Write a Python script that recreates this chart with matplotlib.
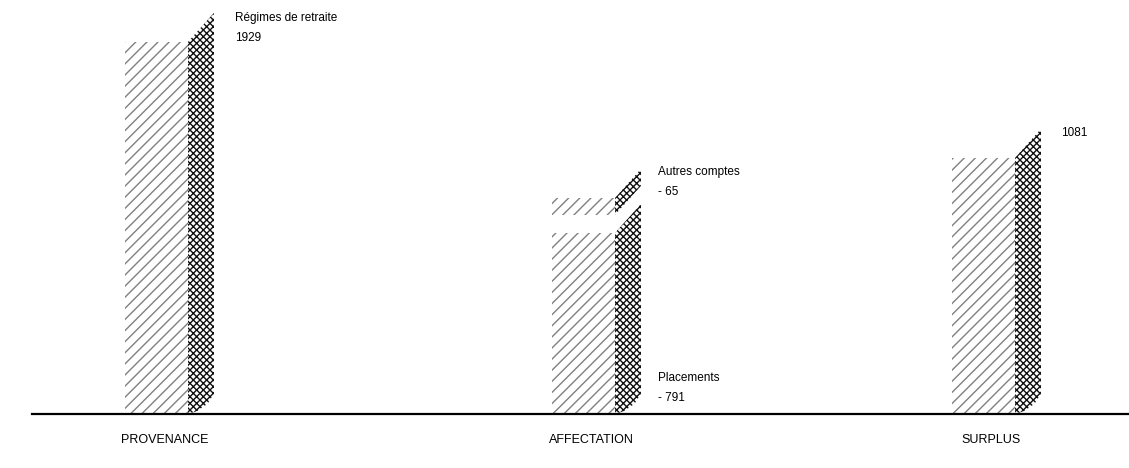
import matplotlib.pyplot as plt
from matplotlib.patches import Polygon
import matplotlib as mpl

# data
categories = ['PROVENANCE', 'AFFECTATION', 'SURPLUS']
# bar segments: (category index, bottom, height) in chart units
seg_cat = [0, 1, 1, 2]
seg_bottom = [0, 0, 870, 0]
seg_height = [1626, 791, 74, 1119]
seg_names = ['Régimes de retraite', 'Placements', 'Autres comptes', '']
seg_values = ['1929', '- 791', '- 65', '1081']

plt.rcParams['font.family'] = ['Liberation Sans', 'DejaVu Sans']
mpl.rcParams['hatch.linewidth'] = 1.0

fig = plt.figure(figsize=(11.29, 4.68), dpi=100)
ax = fig.add_axes([0, 0, 1, 1])
ax.set_xlim(0, 1129)
ax.set_ylim(-236, 1809)
ax.axis('off')

# layout (x in pixel-like units)
bar_left = [125, 552, 952]
bar_w = 63
dx = 26
dy = 127
line_gap = 87

for c, b, h in zip(seg_cat, seg_bottom, seg_height):
    xl = bar_left[c]
    xr = xl + bar_w
    front = Polygon([(xl, b), (xr, b), (xr, b + h), (xl, b + h)],
                    facecolor='white', edgecolor='#808080', hatch='///', lw=0)
    ax.add_patch(front)
    if b == 0:
        side_pts = [(xr, b), (xr, b + h), (xr + dx, b + h + dy),
                    (xr + dx, b + dy * 0.7), (xr + dx * 0.75, b + dy * 0.35),
                    (xr + dx * 0.35, b + dy * 0.1)]
    else:
        side_pts = [(xr, b), (xr, b + h), (xr + dx, b + h + dy), (xr + dx, b + dy)]
    side = Polygon(side_pts, facecolor='white', edgecolor='#111111', hatch='xxxxx', lw=0)
    ax.add_patch(side)

# value labels
lab_x = [bar_left[0] + bar_w + dx + 21, bar_left[1] + bar_w + dx + 17,
         bar_left[1] + bar_w + dx + 17, bar_left[2] + bar_w + dx + 20]
lab_y = [1731, 157, 1058, 1228]
for x, y, name, val in zip(lab_x, lab_y, seg_names, seg_values):
    if name:
        ax.text(x, y, name, fontsize=8.5, va='center', ha='left')
        ax.text(x, y - line_gap, val, fontsize=8.5, va='center', ha='left')
    else:
        ax.text(x, y, val, fontsize=8.5, va='center', ha='left')

# baseline
ax.axhline(0, xmin=32 / 1129, xmax=1, color='black', lw=1.6)

# category labels
for i, cat in enumerate(categories):
    ax.text(bar_left[i] + (bar_w + dx) / 2 - 5, -114, cat, fontsize=9,
            ha='center', va='center')

fig.savefig('out.png', dpi=100)
